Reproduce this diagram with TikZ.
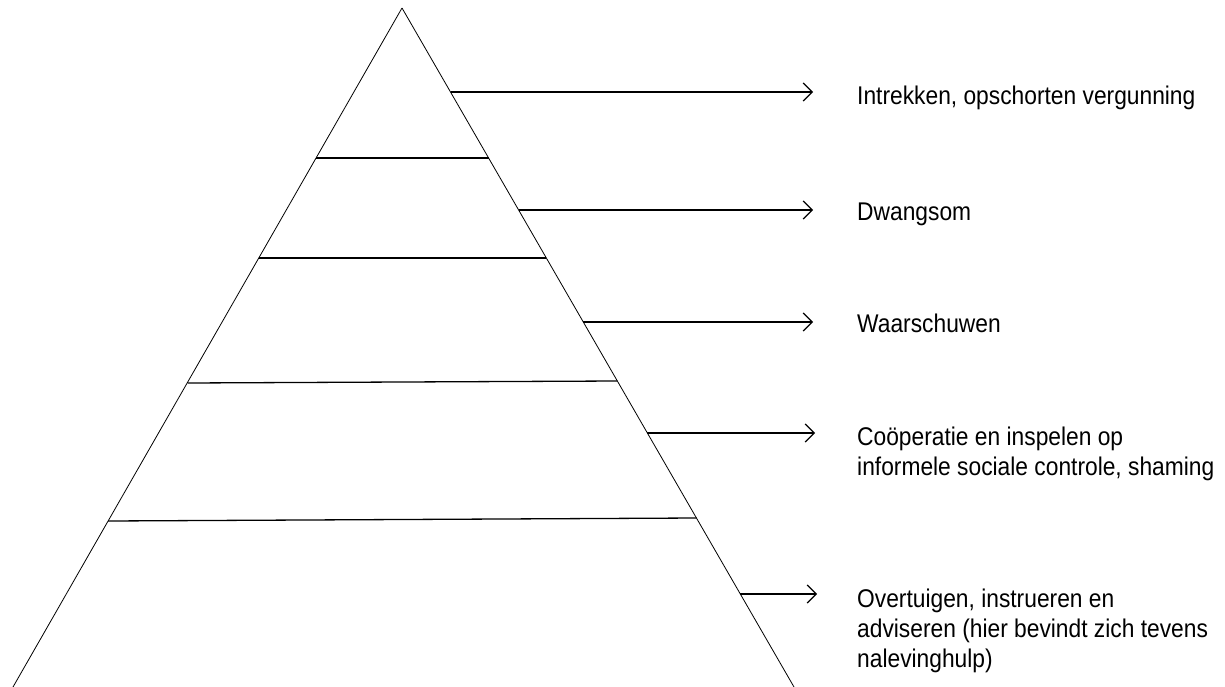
\documentclass[tikz,border=0pt]{standalone}
\usepackage{fontspec}
\setmainfont[FakeStretch=0.89]{Liberation Sans}
\usetikzlibrary{arrows.meta, positioning}

\begin{document}
\begin{tikzpicture}[x=1pt, y=-1pt,
        side/.style={draw=black, line width=0.8pt},
        rung/.style={draw=black, line width=1.3pt},
        pijl/.style={draw=black, line width=1.3pt, -{Straight Barb[length=9pt, width=18pt, line width=1.2pt]}},
        maatregel/.style={anchor=base west, align=left, inner sep=0pt,
            font=\fontsize{25.6}{30}\selectfont}]
        \useasboundingbox (0,0) rectangle (1225,687);

        \node[coordinate] (top) at (402,8) {};
        \node[coordinate] (bl) at (13,687) {};
        \node[coordinate] (br) at (794,687) {};

        \node[coordinate] (l1) at (316,158) {};
        \node[coordinate] (r1) at (488.6,158) {};
        \node[coordinate] (l2) at (258.8,258) {};
        \node[coordinate] (r2) at (546.3,258) {};
        \node[coordinate] (l3) at (187.7,383) {};
        \node[coordinate] (r3) at (617.3,381) {};
        \node[coordinate] (l4) at (108.1,521) {};
        \node[coordinate] (r4) at (696.5,518) {};

        \node[coordinate] (a1) at (450.5,92) {};
        \node[coordinate] (a2) at (518.6,210) {};
        \node[coordinate] (a3) at (583.3,322) {};
        \node[coordinate] (a4) at (647.4,433) {};
        \node[coordinate] (a5) at (740.3,594) {};
        \node[coordinate] (e1) at (813,92) {};
        \node[coordinate] (e2) at (813,210) {};
        \node[coordinate] (e3) at (813,322) {};
        \node[coordinate] (e4) at (815,433) {};
        \node[coordinate] (e5) at (817,594) {};

        \node[maatregel] (m1) at (857,105) {Intrekken, opschorten vergunning};
        \node[maatregel] (m2) at (857,220) {Dwangsom};
        \node[maatregel] (m3) at (857,332) {Waarschuwen};
        \node[maatregel] (m4) at (857,475) {Coöperatie en inspelen op\\informele sociale controle, shaming};
        \node[maatregel] (m5) at (857,667) {Overtuigen, instrueren en\\adviseren (hier bevindt zich tevens\\nalevinghulp)};

        \path[side] (top) edge (bl);
        \path[side] (top) edge (br);

        \path[rung] (l1) edge (r1);
        \path[rung] (l2) edge (r2);
        \path[rung] (l3) edge (r3);
        \path[rung] (l4) edge (r4);

        \path (a1) edge[pijl] (e1);
        \path (a2) edge[pijl] (e2);
        \path (a3) edge[pijl] (e3);
        \path (a4) edge[pijl] (e4);
        \path (a5) edge[pijl] (e5);

    \end{tikzpicture}
\end{document}
